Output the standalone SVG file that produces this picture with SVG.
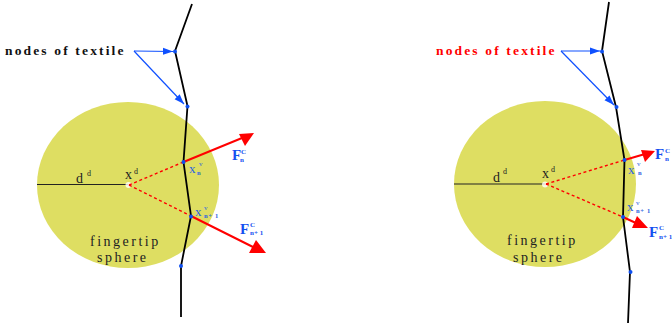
<svg xmlns="http://www.w3.org/2000/svg" width="672" height="326" viewBox="0 0 672 326">
<defs>
<marker id="blueHead" markerUnits="userSpaceOnUse" markerWidth="11" markerHeight="8" refX="10" refY="4" orient="auto"><path d="M0 0.500 L10 4 L0 7.500 Z" fill="#0f50ff"/></marker>
</defs>
<style>
.sphere{fill:#dede62}
.textile{fill:none;stroke:#000;stroke-width:1.8}
.node{fill:#0f50f0}
.lead{fill:none;stroke:#0f50ff;stroke-width:1.2;marker-end:url(#blueHead)}
.force{stroke:#f00;stroke-width:2;fill:none}
.head{fill:#f00}
.dash{stroke:#f00;stroke-width:1.4;stroke-dasharray:3 2.6;fill:none}
.radius{stroke:#222;stroke-width:1.2}
.hub{fill:#fff;opacity:.8}
text{font-family:"Liberation Serif","Times New Roman",serif}
.lab{font-size:14px;letter-spacing:2.5px;fill:#222}
.nodes{font-size:13.500px;letter-spacing:2.150px;font-weight:bold}
.var{font-size:14px;fill:#222}
.sup{font-size:8px;fill:#222}
.bsup{font-size:7px;fill:#2a62e0}
.bx{font-size:13px;fill:#2a62e0}
.bs{font-size:6.500px;fill:#2a62e0;font-weight:bold;letter-spacing:.7px}
.F{font-size:15px;font-weight:bold;fill:#1550f0}
.Fs{font-size:7px;font-weight:bold;fill:#1550f0}
</style>

<g id="left-sphere">
<ellipse class="sphere" cx="128" cy="185" rx="91" ry="83"/>
<line class="radius" x1="37" y1="184.500" x2="128" y2="184.500"/>
<circle class="hub" cx="128.500" cy="185" r="3"/>
<text class="var" x="76" y="183">d</text><text class="sup" x="87" y="176">d</text>
<text class="var" x="125" y="179">x</text><text class="sup" x="134" y="174">d</text>
<text class="lab" x="90" y="246">fingertip</text>
<text class="lab" x="97" y="262">sphere</text>
</g>
<g id="left-connectors">
<polyline class="textile" points="192,4 175,51 187.500,106 183.500,162 191,216 181,266 181,317"/>
<line class="lead" x1="134" y1="51" x2="173" y2="51.500"/>
<line class="lead" x1="134" y1="51" x2="184" y2="104"/>
<line class="dash" x1="129" y1="185" x2="183.500" y2="162"/>
<line class="dash" x1="129" y1="185" x2="191" y2="216"/>
<line class="force" x1="183.500" y1="162" x2="242" y2="138"/>
<polygon class="head" points="254,133 239,134 245,146"/>
<line class="force" x1="191" y1="216" x2="255" y2="248"/>
<polygon class="head" points="266,253 256,240 249,253"/>
</g>
<g id="left-nodes">
<text class="nodes" x="5" y="55" fill="#111">nodes of textile</text>
<circle class="node" cx="175" cy="51.500" r="2"/>
<circle class="node" cx="187.500" cy="106.500" r="2"/>
<circle class="node" cx="183.500" cy="162" r="2"/>
<circle class="node" cx="191" cy="216.500" r="2"/>
<circle class="node" cx="181" cy="266" r="2"/>
</g>
<g id="left-labels">
<text class="bx" x="189" y="173">x</text><text class="bsup" x="199" y="166">v</text><text class="bs" x="197" y="175">n</text>
<text class="bx" x="195" y="216">x</text><text class="bsup" x="204" y="210">v</text><text class="bs" x="204" y="218">n+ 1</text>
<text class="F" x="232" y="160">F</text><text class="Fs" x="241" y="154">C</text><text class="Fs" x="240" y="162">n</text>
<text class="F" x="240" y="234">F</text><text class="Fs" x="250" y="227">C</text><text class="Fs" x="250" y="235">n+ 1</text>
</g>

<g id="right-sphere">
<ellipse class="sphere" cx="545" cy="184" rx="91" ry="83"/>
<line class="radius" x1="454" y1="184" x2="545" y2="184"/>
<circle class="hub" cx="545" cy="184.500" r="3"/>
<text class="var" x="493" y="182">d</text><text class="sup" x="503" y="174">d</text>
<text class="var" x="542" y="178">x</text><text class="sup" x="551" y="172">d</text>
<text class="lab" x="507" y="245">fingertip</text>
<text class="lab" x="513" y="262">sphere</text>
</g>
<g id="right-connectors">
<polyline class="textile" points="609,2 602,51 616,107 624.500,160 623,217 630,272 628,323"/>
<line class="lead" x1="561" y1="51" x2="600" y2="51"/>
<line class="lead" x1="561" y1="51" x2="614" y2="105"/>
<line class="dash" x1="546" y1="184" x2="624.500" y2="160"/>
<line class="dash" x1="546" y1="184" x2="623" y2="217"/>
<line class="force" x1="624.500" y1="160" x2="645" y2="154"/>
<polygon class="head" points="655,151 641,150 645,162"/>
<line class="force" x1="623" y1="217" x2="638" y2="224"/>
<polygon class="head" points="648,228 637,216 632,228"/>
</g>
<g id="right-nodes">
<text class="nodes" x="436" y="55" fill="#f00">nodes of textile</text>
<circle class="node" cx="602" cy="51.500" r="2"/>
<circle class="node" cx="616.500" cy="107" r="2"/>
<circle class="node" cx="624.500" cy="160" r="2"/>
<circle class="node" cx="623" cy="217" r="2"/>
<circle class="node" cx="630.500" cy="272" r="2"/>
</g>
<g id="right-labels">
<text class="bx" x="628" y="174">x</text><text class="bsup" x="637" y="166">v</text><text class="bs" x="638" y="175">n</text>
<text class="bx" x="627" y="211">x</text><text class="bsup" x="636" y="205">v</text><text class="bs" x="636" y="213">n+ 1</text>
<text class="F" x="655" y="159">F</text><text class="Fs" x="665" y="153">C</text><text class="Fs" x="665" y="161">n</text>
<text class="F" x="649" y="237">F</text><text class="Fs" x="659" y="230">C</text><text class="Fs" x="659" y="239">n+ 1</text>
</g>
</svg>
